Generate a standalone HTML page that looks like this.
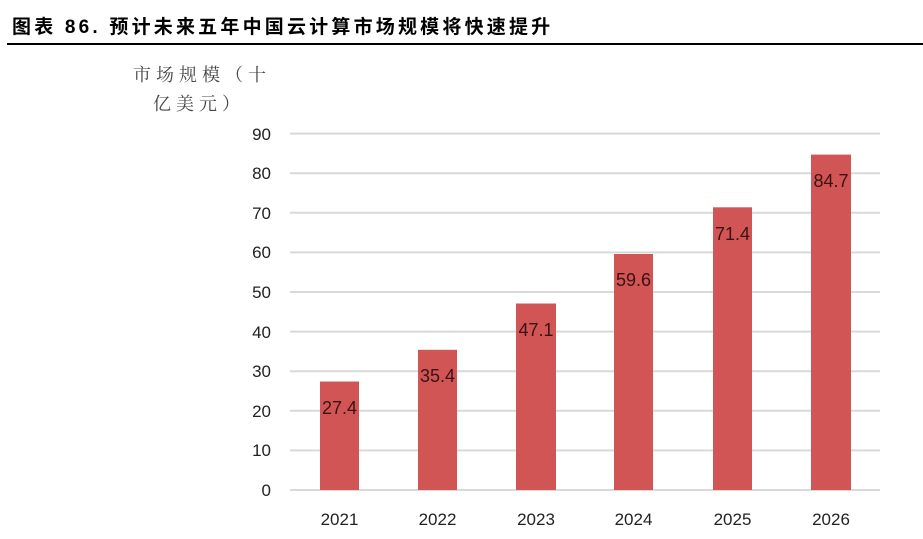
<!DOCTYPE html>
<html><head><meta charset="utf-8"><style>
body{margin:0;width:923px;height:539px;background:#fff;overflow:hidden;position:relative;font-family:"Liberation Sans","Noto Sans CJK SC",sans-serif}
.t{position:absolute;left:12px;top:12px;font-size:19px;font-weight:bold;color:#000;font-family:"Liberation Sans","Noto Sans CJK SC",sans-serif;letter-spacing:3.2px;white-space:nowrap}
.ln{position:absolute;left:7px;right:0;top:43px;height:2px;background:#000}
.yt{position:absolute;font-family:"Noto Serif CJK SC",serif;font-size:18px;color:#444;letter-spacing:5px;white-space:nowrap}
</style></head><body>
<div class="t">图表 86. 预计未来五年中国云计算市场规模将快速提升</div>
<div class="ln"></div>
<div class="yt" style="left:133px;top:61px">市场规模（十</div>
<div class="yt" style="left:153px;top:90px">亿美元）</div>
<svg width="923" height="539" style="position:absolute;left:0;top:0" font-family="Liberation Sans, DejaVu Sans, sans-serif">
<g stroke="#d9d9d9" stroke-width="2">
<line x1="290" x2="880" y1="490" y2="490"/><line x1="290" x2="880" y1="450.4" y2="450.4"/><line x1="290" x2="880" y1="410.8" y2="410.8"/><line x1="290" x2="880" y1="371.2" y2="371.2"/><line x1="290" x2="880" y1="331.6" y2="331.6"/><line x1="290" x2="880" y1="292" y2="292"/><line x1="290" x2="880" y1="252.4" y2="252.4"/><line x1="290" x2="880" y1="212.8" y2="212.8"/><line x1="290" x2="880" y1="173.2" y2="173.2"/><line x1="290" x2="880" y1="133.6" y2="133.6"/>
</g>
<g font-size="17" fill="#222" text-anchor="end">
<text x="271" y="496">0</text><text x="271" y="456">10</text><text x="271" y="417">20</text><text x="271" y="377">30</text><text x="271" y="338">40</text><text x="271" y="298">50</text><text x="271" y="258">60</text><text x="271" y="219">70</text><text x="271" y="179">80</text><text x="271" y="140">90</text>
</g>
<g fill="#d05554">
<rect x="320" y="381.5" width="39" height="108.5"/>
<rect x="418" y="349.8" width="39" height="140.2"/>
<rect x="516" y="303.5" width="40" height="186.5"/>
<rect x="614" y="254" width="39" height="236"/>
<rect x="713" y="207.3" width="39" height="282.7"/>
<rect x="811" y="154.6" width="40" height="335.4"/>
</g>
<g font-size="18" fill="#3a1212" text-anchor="middle">
<text x="339.5" y="414">27.4</text><text x="437.5" y="382">35.4</text><text x="536" y="336">47.1</text><text x="633.5" y="286">59.6</text><text x="732.5" y="240">71.4</text><text x="831" y="187">84.7</text>
</g>
<g font-size="17" fill="#222" text-anchor="middle">
<text x="339.5" y="525">2021</text><text x="437.5" y="525">2022</text><text x="536" y="525">2023</text><text x="633.5" y="525">2024</text><text x="732.5" y="525">2025</text><text x="831" y="525">2026</text>
</g>
</svg>
</body></html>
